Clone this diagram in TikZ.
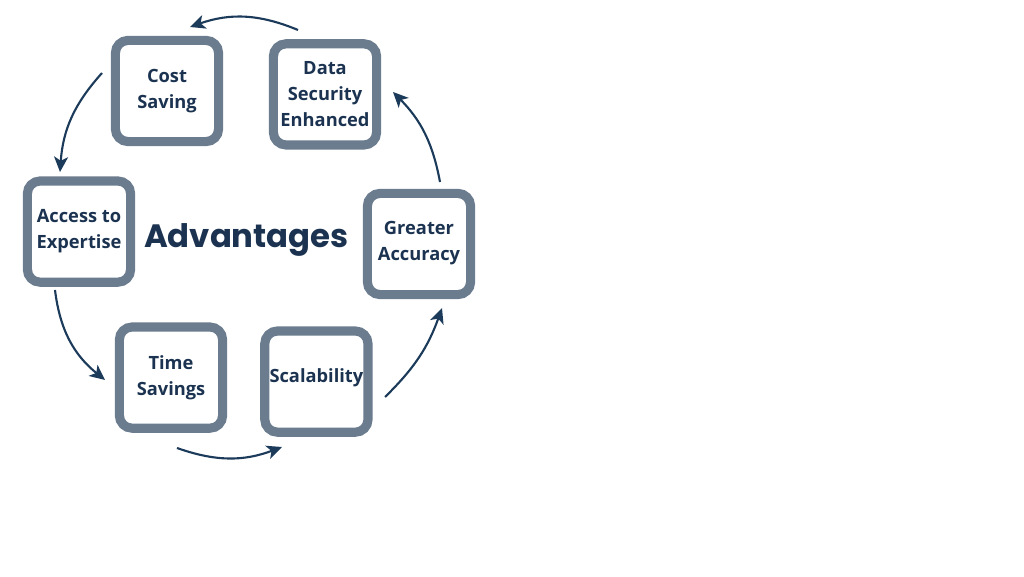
\documentclass[tikz,border=0pt]{standalone}
\usepackage{fontspec}
\setmainfont{Open Sans}
\newfontfamily\titlefont{Poppins}
\usepackage{tikz}
\usetikzlibrary{arrows.meta,positioning}
\definecolor{slate}{HTML}{6B7C8F}
\definecolor{ink}{HTML}{1B3350}
\definecolor{arrowblue}{HTML}{1C3A5A}

\begin{document}
\begin{tikzpicture}[
  font=\bfseries,
  adv/.style={draw=slate,line width=6.5pt,rounded corners=9pt,fill=white,align=center,minimum width=2.58cm,minimum height=2.53cm,inner sep=2pt,text=ink,font=\fontsize{13}{18.5}\selectfont\bfseries},
  arr/.style={-{Stealth[length=3.8mm,width=3.5mm,inset=1mm]},line width=1.5pt,arrowblue}
]
\useasboundingbox (0,0) rectangle (25.6,14.4);
\node[adv] (cost) at (4.175,12.125) {Cost\\Saving};
\node[adv] (data) at (8.125,12.04) {Data\\Security\\Enhanced};
\node[adv] (access) at (1.975,8.61) {Access to\\Expertise};
\node[adv] (accuracy) at (10.475,8.3) {Greater\\Accuracy\rule[-5pt]{0pt}{0pt}};
\node[adv] (time) at (4.275,4.96) {Time\\Savings};
\node[adv] (scale) at (7.91,4.86) {\raisebox{8pt}{Scalability}};
\node[anchor=base,text=ink,font=\titlefont\fontsize{23}{26}\selectfont\bfseries] (title) at (6.16,8.2) {Advantages};
% arrow ends around the ring
\coordinate (d2c) at (7.45,13.65);
\coordinate (c2d) at (4.75,13.725);
\coordinate (c2a) at (2.55,12.575);
\coordinate (a2c) at (1.5,10.1);
\coordinate (a2t) at (1.375,7.15);
\coordinate (t2a) at (2.625,4.9);
\coordinate (t2s) at (4.425,3.2);
\coordinate (s2t) at (7.05,3.225);
\coordinate (s2g) at (9.625,4.475);
\coordinate (g2s) at (11.05,6.7);
\coordinate (g2d) at (11.0,9.85);
\coordinate (d2g) at (9.825,12.1);
\draw[arr] (d2c) to[bend right=21] (c2d);
\draw[arr] (c2a) to[bend right=19] (a2c);
\draw[arr] (a2t) to[bend right=22] (t2a);
\draw[arr] (t2s) to[bend right=20] (s2t);
\draw[arr] (s2g) to[bend right=13] (g2s);
\draw[arr] (g2d) to[bend right=17] (d2g);
\end{tikzpicture}
\end{document}
